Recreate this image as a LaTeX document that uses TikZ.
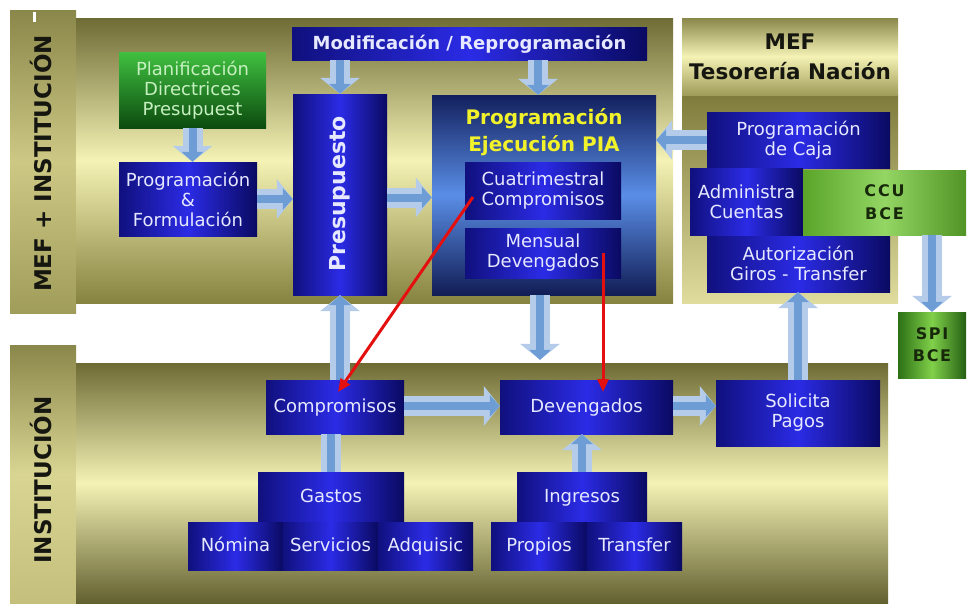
\documentclass[tikz,border=0pt]{standalone}
\usepackage{fontspec}
\setmainfont{DejaVu Sans}
\usetikzlibrary{arrows.meta,calc}

\definecolor{olivedark}{HTML}{6E6B35}
\definecolor{olivemid}{HTML}{86823F}
\definecolor{olivepale}{HTML}{F4F2B4}
\definecolor{tabtop}{HTML}{8A874A}
\definecolor{tabmid}{HTML}{CDC884}
\definecolor{tabbot}{HTML}{A09C5A}
\definecolor{bluedark}{HTML}{10107E}
\definecolor{bluedeep}{HTML}{0A0A62}
\definecolor{bluebright}{HTML}{2B2BE6}
\definecolor{boxtext}{HTML}{E6E8FF}
\definecolor{pianavy}{HTML}{13205E}
\definecolor{pialight}{HTML}{5A8EE6}
\definecolor{piatitle}{HTML}{F2F22A}
\definecolor{greentop}{HTML}{40C040}
\definecolor{greenbot}{HTML}{0C4B0F}
\definecolor{greentext}{HTML}{C6F0C0}
\definecolor{limeedge}{HTML}{5AA52A}
\definecolor{limemid}{HTML}{94D664}
\definecolor{limetext}{HTML}{17290A}
\definecolor{spiedge}{HTML}{2C7016}
\definecolor{spimid}{HTML}{80D04A}
\definecolor{arrowpale}{HTML}{B4CCEA}
\definecolor{arrowcore}{HTML}{6E9DD6}
\definecolor{redline}{HTML}{E41010}
\definecolor{darktext}{HTML}{161610}

\tikzset{
  panel/.style={rectangle, inner sep=0pt},
  bluebox/.style={rectangle, inner sep=0pt, align=center, text=boxtext,
    font=\fontsize{18}{20}\selectfont,
    left color=bluedark, right color=bluedeep, middle color=bluebright},
  oneline/.style={text height=15pt, text depth=4pt},
  greenbox/.style={rectangle, inner sep=0pt, align=center, text=greentext,
    font=\fontsize{18}{20}\selectfont,
    top color=greentop, bottom color=greenbot},
  limebox/.style={rectangle, inner sep=0pt, align=center, text=limetext,
    font=\bfseries\fontsize{16}{23}\selectfont\addfontfeature{LetterSpace=12},
    left color=limeedge, right color=limeedge!90!black, middle color=limemid},
  spibox/.style={rectangle, inner sep=0pt, align=center, text=limetext,
    font=\bfseries\fontsize{16}{22}\selectfont\addfontfeature{LetterSpace=10},
    left color=spiedge, right color=spiedge!85!black, middle color=spimid},
  tablabel/.style={rotate=90, text=darktext, font=\bfseries\fontsize{23}{25}\selectfont},
  blockarr/.style={draw=arrowpale, line width=20pt,
    -{Triangle[width=40pt,length=16pt,line width=0pt]},
    postaction={draw=arrowcore, line width=8pt,
      -{Triangle[width=22pt,length=10pt,line width=0pt]}}},
  blockbar/.style={draw=arrowpale, line width=20pt,
    postaction={draw=arrowcore, line width=8pt}},
  redarr/.style={draw=redline, line width=3pt,
    -{Triangle[width=11pt,length=13pt]}},
}

\begin{document}
\begin{tikzpicture}[x=1pt,y=-1pt]
\useasboundingbox[fill=white] (0,0) rectangle (968,603);

% ---------- background panels ----------
\node[panel, minimum width=66pt, minimum height=303pt, top color=tabtop, bottom color=tabbot, middle color=tabmid] (tabA) at (43,161.5) {};
\node[panel, minimum width=597pt, minimum height=285pt, top color=olivedark, bottom color=olivemid, middle color=olivepale] (top) at (374.5,160.5) {};
\node[panel, minimum width=66pt, minimum height=258pt, top color=tabtop, bottom color=tabmid!80!tabbot, middle color=tabmid!70!olivepale] (tabB) at (43,474) {};
\node[panel, minimum width=812pt, minimum height=240pt, top color=olivedark, bottom color=olivedark!90!black, middle color=olivepale] (bot) at (482,483) {};
\node[panel, minimum width=216pt, minimum height=208pt, top color=olivemid!95!black, bottom color=olivepale!75!tabbot] (mef) at (790,199) {};
\node[panel, minimum width=216pt, minimum height=77pt, top color=tabtop, bottom color=tabbot, middle color=olivepale] (mefhead) at (790,56.5) {};
\fill[white] (33,12) rectangle (36,22);

% ---------- side labels ----------
\node[tablabel] (labA) at (41,163.5) {MEF + INSTITUCIÓN};
\node[tablabel] (labB) at (41,480) {INSTITUCIÓN};
\node[align=center, text=darktext, font=\bfseries\fontsize{21.5}{30}\selectfont] (meft) at (790,57) {MEF\\Tesorería Nación};

% ---------- upper panel boxes ----------
\node[greenbox, minimum width=147pt, minimum height=76pt] (plan) at (192.5,90) {Planificación\\Directrices\\Presupuest};
\node[bluebox, minimum width=138pt, minimum height=74pt] (progf) at (188,199) {Programación\\\&\\Formulación};
\node[bluebox, oneline, minimum width=355pt, minimum height=33pt, font=\bfseries\fontsize{18}{20}\selectfont] (modif) at (469.5,43.5) {Modificación / Reprogramación};
\node[bluebox, minimum width=94pt, minimum height=201pt] (presu) at (340,194.5) {};
\node[rotate=90, text=boxtext, font=\bfseries\fontsize{22}{24}\selectfont] (presut) at (340,194) {Presupuesto};
\node[panel, minimum width=224pt, minimum height=200pt, top color=pianavy, bottom color=pianavy!90!black, middle color=pialight] (pia) at (544,195) {};
\node[align=center, text=piatitle, font=\bfseries\fontsize{20}{27}\selectfont] (piat) at (544,132) {Programación\\Ejecución PIA};
\node[bluebox, minimum width=156pt, minimum height=57pt] (cuat) at (543,190.5) {Cuatrimestral\\Compromisos};
\node[bluebox, minimum width=156pt, minimum height=50pt] (mens) at (543,253) {Mensual\\Devengados};

% ---------- treasury boxes ----------
\node[bluebox, minimum width=183pt, minimum height=56pt] (caja) at (798.5,140) {Programación\\de Caja};
\node[bluebox, minimum width=183pt, minimum height=57pt] (autor) at (798.5,263.5) {Autorización\\Giros - Transfer};
\node[bluebox, minimum width=113pt, minimum height=67pt] (admin) at (746.5,201.5) {Administra\\Cuentas};
\node[limebox, minimum width=163pt, minimum height=65pt] (ccu) at (884.5,202.5) {CCU\\BCE};
\node[spibox, minimum width=68pt, minimum height=66pt] (spi) at (932,345) {SPI\\BCE};

% ---------- lower panel boxes ----------
\node[bluebox, oneline, minimum width=138pt, minimum height=54pt] (comp) at (335,407) {Compromisos};
\node[bluebox, oneline, minimum width=173pt, minimum height=54pt] (deveng) at (586.5,407) {Devengados};
\node[bluebox, minimum width=164pt, minimum height=66pt] (solic) at (798,413) {Solicita\\Pagos};
\node[bluebox, oneline, minimum width=146pt, minimum height=49pt] (gastos) at (331,496.5) {Gastos};
\node[bluebox, oneline, minimum width=95pt, minimum height=48pt] (nomina) at (235.5,546) {Nómina};
\node[bluebox, oneline, minimum width=95pt, minimum height=48pt] (serv) at (330.5,546) {Servicios};
\node[bluebox, oneline, minimum width=95pt, minimum height=48pt] (adq) at (425.5,546) {Adquisic};
\node[bluebox, oneline, minimum width=130pt, minimum height=49pt] (ingr) at (582,496.5) {Ingresos};
\node[bluebox, oneline, minimum width=96pt, minimum height=48pt] (prop) at (539,546) {Propios};
\node[bluebox, oneline, minimum width=95pt, minimum height=48pt] (transf) at (634.5,546) {Transfer};

% ---------- block arrows ----------
\draw[blockarr] (plan.south) -- (plan.south |- progf.north);
\draw[blockarr] (progf.east) -- (progf.east -| presu.west);
\draw[blockarr] (presu.north |- modif.south) -- (presu.north);
\draw[blockarr] ([xshift=-6pt]modif.south -| pia.north) -- ([xshift=-6pt]pia.north);
\draw[blockarr] ([yshift=-3pt]presu.east) -- ([yshift=-3pt]presu.east -| pia.west);
\draw[blockarr] (caja.west) -- (caja.west -| pia.east);
\draw[blockarr] (ccu.south -| spi.north) -- (spi.north);
\draw[blockarr] (solic.north) -- (solic.north |- autor.south);
\draw[blockarr] (presu.south |- comp.north) -- (presu.south);
\draw[blockbar] (gastos.north) -- (gastos.north |- comp.south);
\draw[blockarr] ([yshift=1pt]comp.east) -- ([yshift=1pt]comp.east -| deveng.west);
\draw[blockarr] (ingr.north) -- (ingr.north |- deveng.south);
\draw[blockarr] ([yshift=1pt]deveng.east) -- ([yshift=1pt]deveng.east -| solic.west);
\draw[blockarr, shorten >=20pt] ([xshift=-4pt]pia.south) -- ([xshift=-4pt]pia.south |- deveng.north);

% ---------- red links ----------
\coordinate (r1a) at (473,197);
\coordinate (r1b) at (338,392);
\coordinate (r2a) at (603,253);
\coordinate (r2b) at (603,392);
\draw[redarr] (r1a) -- (r1b);
\draw[redarr] (r2a) -- (r2b);
\end{tikzpicture}
\end{document}
